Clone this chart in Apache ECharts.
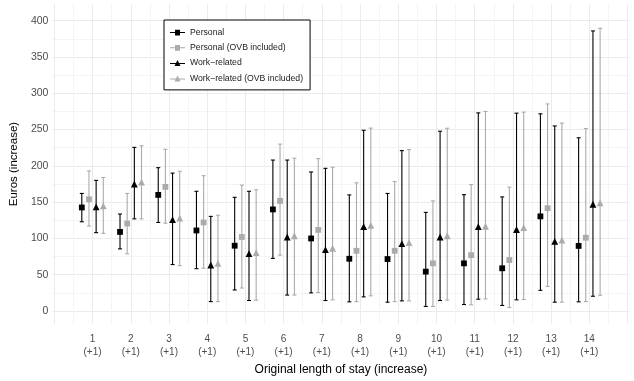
<!DOCTYPE html>
<html><head><meta charset="utf-8">
<script src="https://cdn.jsdelivr.net/npm/echarts@6/dist/echarts.min.js"></script>
<style>html,body{margin:0;padding:0;background:#fff}#c{width:634px;height:381px}</style>
</head><body><div id="c"></div>
<script>
// ---- data ----
const categories = [1,2,3,4,5,6,7,8,9,10,11,12,13,14];
const tickSuffix = '(+1)';
const yTickLabels = [0,50,100,150,200,250,300,350,400];

const personal      = [142.7,109,160,111,90,140,100,72,71.6,54.3,65.7,58.9,130.4,89.7];
const personalLo    = [123,85.6,122,58.4,29,72.5,25,12.7,12.2,6.3,9,7.7,28.5,12.7];
const personalHi    = [162,133.6,197.5,165,156.7,208,191.6,160,162,135.9,160.3,157.2,271.7,238.7];

const personalOvb   = [154,120.5,171,122,102,151.7,111.8,83,83,65.7,77,70.2,141.7,101];
const personalOvbLo = [117,78.8,121,59,31.7,77,25.4,13,13,6.3,8.6,5,34,13];
const personalOvbHi = [193,162,222.8,186.5,173.5,230,210,176.6,178.4,151.7,174.3,170.7,285.3,251.4];

const work          = [143.6,175,126,63.4,79,102,84.6,116.4,92.8,102,116.4,112.3,96,147.1];
const workLo        = [108,127,64,13,14.5,22,14.5,19.5,14,14.5,16.3,15.4,12.2,20.4];
const workHi        = [180,225.5,190,130.4,165,208,196.6,249,221,247.7,273,272.6,255,385.9];

const workOvb       = [145,177.5,128,65.6,80.6,103.7,86.5,118,94.2,103.7,116.8,115,97.8,149];
const workOvbLo     = [107,127,62.5,13,15,22,15.4,21,14,15,16.7,15.9,12.2,21.7];
const workOvbHi     = [184,227.8,192.5,132,167,210.6,198,252,222.4,251.8,275,274,259,389.5];

// ---- styling / layout ----
const FONT = 'Liberation Sans, Arial, Helvetica, sans-serif';
const BLACK = '#000000', GREY = '#ababab';
const dodge = 0.75;
const groups = [
  {name:'Personal', mid:personal, lo:personalLo, hi:personalHi, color:BLACK, symbol:'rect', size:5.8, k:0,
   icon:'path://M0,2.1H12V2.9H0Z M4,0.2H8V4.8H4Z'},
  {name:'Personal (OVB included)', mid:personalOvb, lo:personalOvbLo, hi:personalOvbHi, color:GREY, symbol:'rect', size:5.8, k:1,
   icon:'path://M0,2.1H12V2.9H0Z M4,0.2H8V4.8H4Z'},
  {name:'Work\u2212related', mid:work, lo:workLo, hi:workHi, color:BLACK, symbol:'triangle', size:6.8, k:2,
   icon:'path://M0,2.6H12V3.4H0Z M3.6,5L6,0.2L8.4,5Z'},
  {name:'Work\u2212related (OVB included)', mid:workOvb, lo:workOvbLo, hi:workOvbHi, color:GREY, symbol:'triangle', size:6.8, k:3,
   icon:'path://M0,2.6H12V3.4H0Z M3.6,5L6,0.2L8.4,5Z'}
];
const offset = k => (k - 1.5) * dodge / 4;

const gridX = []; for (let v = 0; v <= 15; v += 0.5) gridX.push(v);
const gridY = []; for (let v = 0; v <= 400; v += 25) gridY.push(v);

const series = [];
groups.forEach(g => {
  const off = offset(g.k);
  series.push({
    type:'custom', silent:true, z:2,
    data: categories.map((c,i) => [c + off, g.lo[i], g.hi[i]]),
    encode:{x:0, y:[1,2]},
    renderItem:(params, api) => {
      const x = api.value(0);
      const a = api.coord([x, api.value(1)]);
      const b = api.coord([x, api.value(2)]);
      const hw = 2;
      const st = {stroke:g.color, lineWidth:1.1};
      return {type:'group', children:[
        {type:'line', shape:{x1:a[0], y1:a[1], x2:b[0], y2:b[1]}, style:st},
        {type:'line', shape:{x1:b[0]-hw, y1:b[1], x2:b[0]+hw, y2:b[1]}, style:st},
        {type:'line', shape:{x1:a[0]-hw, y1:a[1], x2:a[0]+hw, y2:a[1]}, style:st}
      ]};
    }
  });
  series.push({
    type:'scatter', name:g.name, z:5, silent:true,
    symbol:g.symbol, symbolSize:g.size,
    itemStyle:{color:g.color, opacity:1},
    data: categories.map((c,i) => [c + off, g.mid[i]])
  });
});

const chart = echarts.init(document.getElementById('c'), null, {renderer:'canvas'});
chart.setOption({
  animation:false,
  backgroundColor:'#ffffff',
  textStyle:{fontFamily:FONT},
  grid:{left:47, right:4.5, top:4, bottom:53, containLabel:false},
  legend:{
    orient:'vertical', left:164, top:20,
    padding:[7,7,6,6], itemGap:4.3,
    itemWidth:15, itemHeight:6,
    borderColor:'#000', borderWidth:1, backgroundColor:'#fff',
    textStyle:{fontFamily:FONT, fontSize:8.7, color:'#1a1a1a', lineHeight:11},
    data: groups.map(g => ({name:g.name, icon:g.icon, itemStyle:{color:g.color}}))
  },
  xAxis:{
    type:'value', min:-0.05, max:15.05,
    axisLine:{show:false},
    axisTick:{show:false, customValues:gridX},
    axisLabel:{customValues:categories, formatter:v => v + '\n' + tickSuffix,
      color:'#4d4d4d', fontSize:10, lineHeight:13.5, margin:8, fontFamily:FONT},
    splitLine:{show:true, lineStyle:{color:['#ebebeb','#f4f4f4'], width:1}},
    name:'Original length of stay (increase)', nameLocation:'middle', nameGap:36,
    nameTextStyle:{color:'#000', fontSize:12, fontFamily:FONT}
  },
  yAxis:{
    type:'value', min:-18, max:423,
    axisLine:{show:false},
    axisTick:{show:false, customValues:gridY},
    axisLabel:{customValues:yTickLabels, color:'#4d4d4d', fontSize:10.5, margin:4, fontFamily:FONT},
    splitLine:{show:true, lineStyle:{color:['#ebebeb','#f4f4f4'], width:1}},
    name:'Euros (increase)', nameLocation:'middle', nameGap:32,
    nameTextStyle:{color:'#000', fontSize:11.5, fontFamily:FONT}
  },
  series: series
});
</script></body></html>
